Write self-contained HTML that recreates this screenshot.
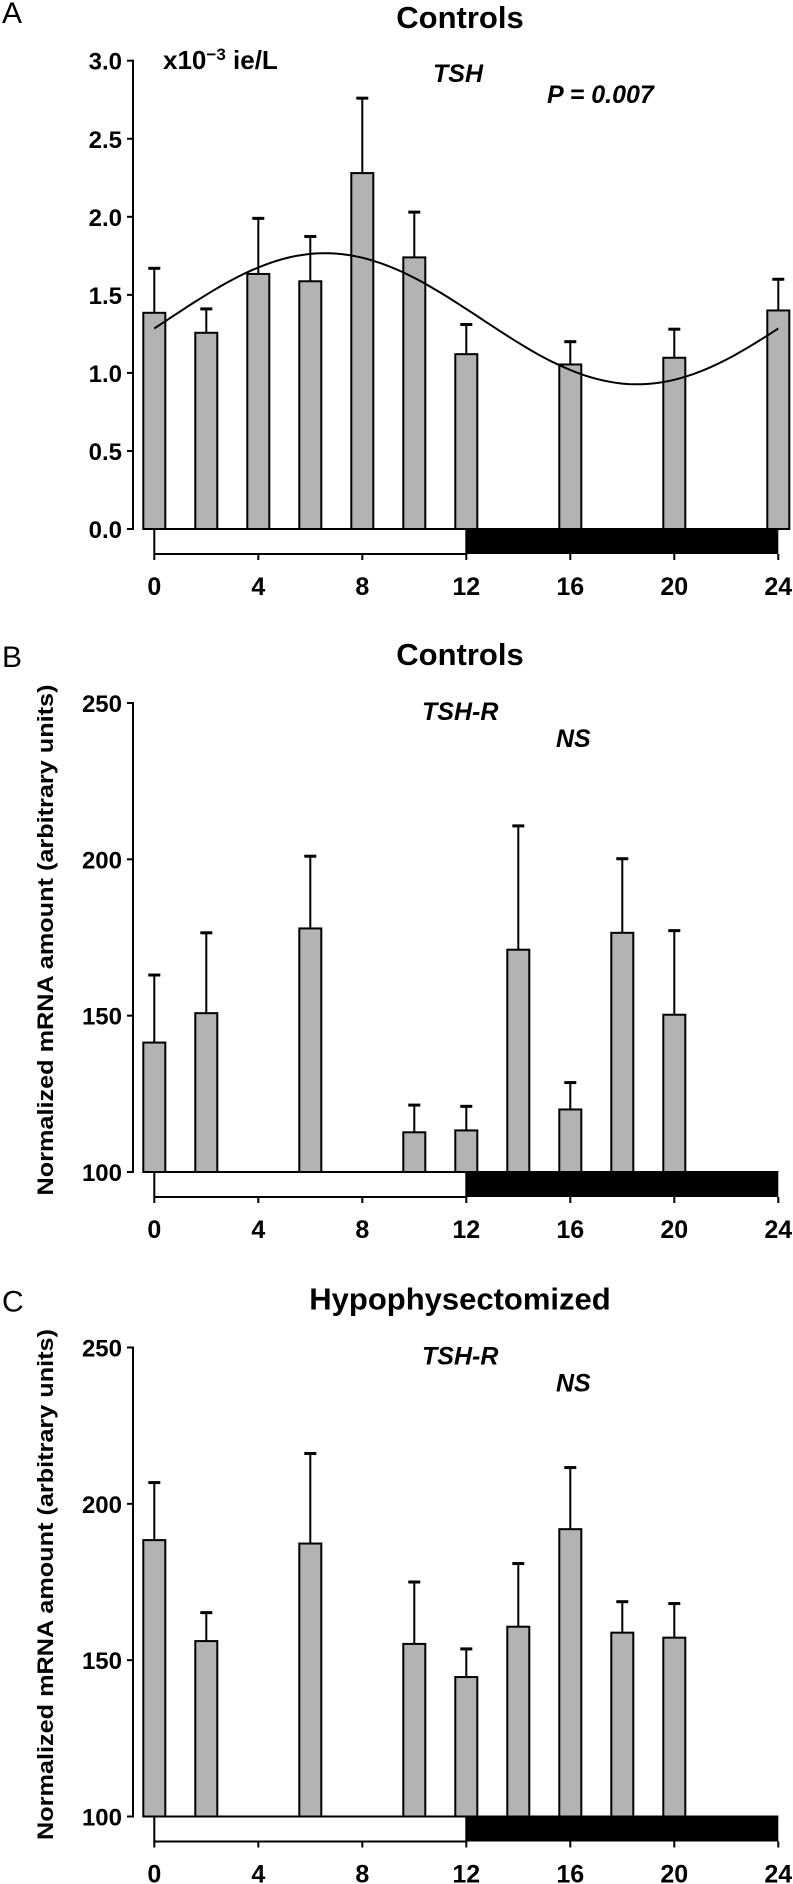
<!DOCTYPE html>
<html><head><meta charset="utf-8"><style>
html,body{margin:0;padding:0;background:#fff}
svg{display:block;font-family:"Liberation Sans",Arial,sans-serif}
</style></head><body>
<svg id="fig" width="793" height="1884" viewBox="0 0 793 1884" xmlns="http://www.w3.org/2000/svg"></svg>
<script>
// Panel A: TSH (x10^-3 ie/L)
const hoursA = [0, 2, 4, 6, 8, 10, 12, 16, 20, 24];
const meanA = [1.385, 1.257, 1.634, 1.587, 2.28, 1.74, 1.12, 1.054, 1.097, 1.40];
const errA = [1.67, 1.41, 1.99, 1.874, 2.76, 2.03, 1.31, 1.20, 1.28, 1.60];
const cosinorA = [1.347, 0.42, 6.57]; // mesor, amplitude, acrophase (h)
const yTicksA = ["0.0", "0.5", "1.0", "1.5", "2.0", "2.5", "3.0"];
// Panel B: TSH-R controls
const hoursB = [0, 2, 6, 10, 12, 14, 16, 18, 20];
const meanB = [141.4, 150.8, 177.9, 112.7, 113.3, 171.1, 120, 176.5, 150.3];
const errB = [163, 176.5, 201, 121.4, 121, 210.7, 128.6, 200.2, 177.2];
// Panel C: TSH-R hypophysectomized
const hoursC = [0, 2, 6, 10, 12, 14, 16, 18, 20];
const meanC = [188.4, 156.1, 187.3, 155.2, 144.6, 160.7, 191.9, 158.8, 157.2];
const errC = [206.8, 165.2, 216.1, 175, 153.6, 180.9, 211.6, 168.7, 168.1];
const yTicksBC = ["100", "150", "200", "250"];
const xTicks = ["0", "4", "8", "12", "16", "20", "24"];

const NS = "http://www.w3.org/2000/svg";
const svg = document.getElementById('fig');
function mk(tag, attrs, parent, text) {
  const e = document.createElementNS(NS, tag);
  for (const k in attrs) e.setAttribute(k, attrs[k]);
  if (text !== undefined) e.textContent = text;
  (parent || svg).appendChild(e);
  return e;
}
const X0 = 154.3, PXH = 26.0, AXX = 133;
function xs(h) { return X0 + h * PXH; }

function panel(p) {
  const g = mk('g', {});
  
  
  const ys = v => p.y0 - (v - p.vmin) / (p.vmax - p.vmin) * (p.y0 - p.yTop);
  const L = mk('text', {x: 2, y: p.letterY, 'font-size': 30}, g, p.letter);
  
  
  const T = mk('text', {x: 460, y: p.titleY, 'font-size': 31, 'font-weight': 'bold', 'text-anchor': 'middle'}, g, p.title);
  
  
  const ax = mk('line', {x1: AXX, y1: p.yTop - 1, x2: AXX, y2: p.y0 + 1, stroke: '#000', 'stroke-width': 2}, g);
  
  
  p.ticks.forEach(t => {
    const v = parseFloat(t), y = ys(v);
    mk('line', {x1: AXX - 6, y1: y, x2: AXX, y2: y, stroke: '#000', 'stroke-width': 2}, g);
    const tl = mk('text', {x: 122, y: y + 9, 'font-size': 24, 'font-weight': 'bold', 'text-anchor': 'end'}, g, t);
    
    
  });
  p.hours.forEach((h, i) => {
    const cx = xs(h), top = ys(p.mean[i]), et = ys(p.err[i]);
    const el = mk('line', {x1: cx, y1: et, x2: cx, y2: top, stroke: '#000', 'stroke-width': 2}, g);
    
    
    mk('line', {x1: cx - 6, y1: et, x2: cx + 6, y2: et, stroke: '#000', 'stroke-width': 3}, g);
    const b = mk('rect', {x: cx - 11, y: top, width: 22, height: p.y0 - top, fill: '#b3b3b3', stroke: '#000', 'stroke-width': 2}, g);
    
    
  });
  const lb = mk('rect', {x: xs(0), y: p.y0, width: xs(12) - xs(0), height: 25, fill: '#fff', stroke: '#000', 'stroke-width': 2}, g);
  
  
  const db = mk('rect', {x: xs(12), y: p.y0 - 1, width: xs(24) - xs(12), height: 26, fill: '#000'}, g);
  
  
  mk('line', {x1: xs(0), y1: p.y0, x2: xs(24), y2: p.y0, stroke: '#000', 'stroke-width': 2}, g);
  xTicks.forEach(t => {
    const x = xs(parseFloat(t));
    mk('line', {x1: x, y1: p.y0 + 25, x2: x, y2: p.y0 + 31, stroke: '#000', 'stroke-width': 2}, g);
    const xl = mk('text', {x: x, y: p.xLabelY, 'font-size': 25, 'font-weight': 'bold', 'text-anchor': 'middle'}, g, t);
    
    
  });
  return {g, ys};
}

const A = panel({id: 'a', letter: 'A', letterY: 23, title: 'Controls', titleY: 28, yTop: 60.7, y0: 529, vmin: 0, vmax: 3,
  ticks: yTicksA, hours: hoursA, mean: meanA, err: errA, xLabelY: 595});
let d = '';
for (let h = 0; h <= 24.001; h += 0.25) {
  const v = cosinorA[0] + cosinorA[1] * Math.cos(2 * Math.PI * (h - cosinorA[2]) / 24);
  d += (h === 0 ? 'M' : 'L') + xs(h).toFixed(1) + ',' + A.ys(v).toFixed(1);
}
const curve = mk('path', {d: d, fill: 'none', stroke: '#000', 'stroke-width': 2}, A.g);


const unit = mk('text', {x: 163, y: 69, 'font-size': 26, 'font-weight': 'bold'}, A.g);


unit.innerHTML = 'x10<tspan dy="-9" font-size="17">−3</tspan><tspan dy="9"> ie/L</tspan>';
const tsh = mk('text', {x: 433, y: 82, 'font-size': 25, 'font-weight': 'bold', 'font-style': 'italic'}, A.g, 'TSH');


const pv = mk('text', {x: 547, y: 103, 'font-size': 25, 'font-weight': 'bold', 'font-style': 'italic'}, A.g, 'P = 0.007');



function tshrPanel(id, letter, title, off, hours, mean, err) {
  const P = panel({id: id, letter: letter, letterY: 667 + off, title: title, titleY: 665 + off, yTop: 703 + off, y0: 1172 + off,
    vmin: 100, vmax: 250, ticks: yTicksBC, hours: hours, mean: mean, err: err, xLabelY: 1238 + off});
  const t1 = mk('text', {x: 422, y: 720 + off, 'font-size': 25, 'font-weight': 'bold', 'font-style': 'italic'}, P.g, 'TSH-R');
  
  
  const t2 = mk('text', {x: 556, y: 747 + off, 'font-size': 25, 'font-weight': 'bold', 'font-style': 'italic'}, P.g, 'NS');
  
  
  const yt = mk('text', {transform: 'translate(53,' + (940 + off) + ') rotate(-90)', 'font-size': 22, 'font-weight': 'bold',
    'text-anchor': 'middle', textLength: 511, lengthAdjust: 'spacingAndGlyphs'}, P.g, 'Normalized  mRNA amount  (arbitrary units)');
  
  
}
tshrPanel('b', 'B', 'Controls', 0, hoursB, meanB, errB);
tshrPanel('c', 'C', 'Hypophysectomized', 644.5, hoursC, meanC, errC);
</script>
</body></html>
